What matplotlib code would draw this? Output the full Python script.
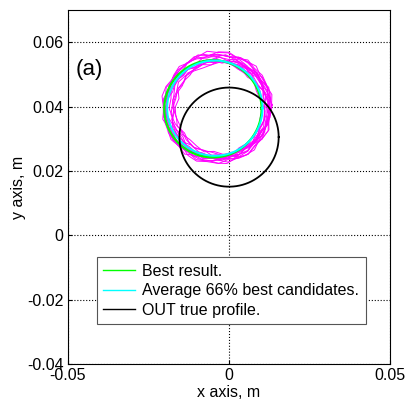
import matplotlib
matplotlib.use('Agg')
import matplotlib.pyplot as plt
import numpy as np

plt.rcParams['font.family'] = ['Liberation Sans', 'DejaVu Sans']

# circles in mm: centre x, centre y, radius
true_c = (0.0, 30.5, 15.4)
best_c = (-5.0, 39.3, 15.1)
avg_c = (-4.4, 39.5, 14.8)

# magenta candidates (mm)
cand_cx = [-3.0, -4.5, -2.5, -4.0, -3.5, -2.0, -5.0, -3.2, -4.2, -2.8, -3.8, -2.4, -3.6, -4.8, -2.2, -3.3]
cand_cy = [39.5, 40.0, 38.5, 39.0, 40.5, 39.8, 39.2, 38.8, 40.2, 39.0, 38.2, 40.6, 39.4, 38.6, 39.6, 40.8]
cand_r = [15.5, 16.0, 14.8, 15.2, 16.3, 14.5, 15.0, 16.0, 15.6, 14.9, 15.8, 15.3, 16.6, 15.4, 14.6, 15.9]
cand_w = [
    [0.3, -0.2, 0.7, 0.1, -0.4, 0.2, 0.8, -0.1, 0.3, -0.6, 0.0, 0.4, -0.3, 0.2, 0.7, -0.2, 0.1, -0.7, 0.3, 0.0, -0.3, 0.5, -0.1, 0.2, 0.6, -0.4, 0.1, 0.3, -0.5, 0.2, 0.0, -0.2],
    [-0.4, 0.2, 0.0, 0.6, -0.1, -0.6, 0.3, 0.2, -0.3, 0.5, 0.7, -0.2, 0.1, -0.4, 0.3, 0.6, -0.1, 0.2, -0.6, 0.4, 0.1, -0.2, 0.7, -0.3, 0.0, 0.4, -0.5, 0.2, 0.3, -0.1, 0.5, -0.3],
    [0.1, 0.6, -0.3, 0.2, 0.5, -0.1, -0.7, 0.3, 0.6, 0.0, -0.2, 0.3, 0.7, -0.4, 0.0, 0.2, -0.3, 0.6, 0.1, -0.6, 0.4, 0.2, -0.2, 0.0, 0.5, -0.4, 0.3, 0.1, -0.5, 0.6, -0.1, 0.2],
    [-0.2, 0.0, 0.5, -0.6, 0.3, 0.7, 0.1, -0.3, 0.2, 0.6, -0.4, 0.0, 0.3, 0.1, -0.6, 0.4, 0.7, -0.1, -0.3, 0.2, 0.6, -0.5, 0.1, 0.3, -0.2, 0.5, 0.0, -0.4, 0.4, 0.2, -0.6, 0.1],
    [0.6, -0.3, 0.1, 0.3, -0.2, 0.5, -0.6, 0.2, 0.0, 0.7, -0.1, -0.4, 0.6, 0.2, -0.3, 0.1, 0.5, -0.2, 0.7, -0.5, 0.0, 0.3, -0.4, 0.2, 0.4, -0.1, 0.6, -0.3, 0.0, 0.5, -0.2, 0.3],
    [0.0, 0.5, -0.1, -0.6, 0.7, 0.2, -0.2, 0.6, -0.4, 0.1, 0.3, 0.7, -0.3, 0.0, 0.5, -0.7, 0.2, 0.3, -0.1, 0.6, -0.2, 0.0, 0.5, -0.5, 0.1, 0.4, -0.3, 0.6, 0.2, -0.4, 0.3, 0.0],
    [0.4, 0.1, -0.4, 0.3, 0.0, -0.3, 0.6, 0.2, -0.6, 0.3, 0.1, -0.2, 0.5, -0.6, 0.2, 0.7, -0.1, 0.0, 0.3, -0.4, 0.6, 0.1, -0.3, 0.7, -0.2, 0.2, 0.5, -0.5, 0.0, 0.3, 0.6, -0.1],
    [-0.6, 0.3, 0.2, -0.1, 0.6, 0.0, 0.3, -0.4, 0.7, -0.2, 0.1, 0.5, -0.6, 0.3, -0.1, 0.2, 0.6, -0.3, 0.0, 0.7, -0.4, 0.2, 0.3, -0.1, 0.5, -0.5, 0.1, 0.4, -0.2, 0.0, 0.6, -0.3],
    [0.2, -0.6, 0.5, 0.7, -0.2, 0.1, 0.0, 0.6, -0.3, -0.1, 0.5, 0.2, -0.7, 0.3, 0.1, -0.4, 0.6, 0.0, -0.2, 0.3, 0.7, -0.6, 0.1, 0.5, -0.3, 0.2, 0.4, -0.1, 0.6, -0.5, 0.0, 0.3],
    [0.7, 0.0, -0.2, 0.3, 0.6, -0.4, 0.2, 0.1, 0.5, -0.7, 0.3, 0.0, 0.2, 0.6, -0.3, 0.1, -0.6, 0.4, 0.2, -0.1, 0.3, 0.7, -0.4, 0.0, 0.5, -0.2, 0.1, 0.6, -0.5, 0.2, 0.4, -0.1],
    [-0.1, 0.5, 0.3, -0.4, 0.1, 0.6, -0.2, 0.0, 0.7, 0.2, -0.6, 0.3, 0.1, -0.3, 0.6, 0.0, 0.2, -0.4, 0.5, 0.1, -0.7, 0.3, 0.6, -0.2, 0.0, 0.4, -0.5, 0.2, 0.7, -0.1, 0.3, -0.4],
    [0.3, 0.7, -0.1, 0.0, -0.6, 0.3, 0.5, -0.2, 0.1, 0.6, 0.2, -0.4, 0.0, 0.7, 0.3, -0.3, -0.1, 0.6, 0.2, -0.6, 0.1, 0.5, 0.0, -0.2, 0.4, 0.6, -0.5, 0.1, 0.3, -0.3, 0.5, 0.2],
    [-0.3, 0.2, 0.6, -0.5, 0.0, 0.4, 0.7, -0.2, 0.3, -0.6, 0.1, 0.5, 0.2, -0.4, 0.6, -0.1, 0.0, 0.7, -0.5, 0.3, 0.2, -0.2, 0.6, 0.1, -0.6, 0.4, 0.0, 0.5, -0.3, 0.2, 0.7, -0.4],
    [0.5, -0.1, 0.3, 0.6, -0.5, 0.2, 0.0, 0.4, -0.3, 0.7, -0.6, 0.1, 0.5, 0.3, -0.2, 0.6, -0.4, 0.2, 0.0, 0.5, -0.1, 0.7, -0.5, 0.3, 0.1, -0.3, 0.6, 0.2, -0.6, 0.4, 0.0, 0.5],
    [0.0, 0.3, -0.5, 0.2, 0.6, -0.3, 0.4, 0.1, -0.7, 0.5, 0.2, -0.1, 0.6, -0.4, 0.3, 0.0, 0.7, -0.2, 0.4, -0.6, 0.1, 0.5, -0.3, 0.6, 0.2, -0.5, 0.3, 0.0, 0.5, -0.2, 0.1, 0.6],
    [-0.5, 0.4, 0.1, -0.2, 0.7, 0.0, -0.4, 0.5, 0.3, -0.6, 0.6, 0.2, -0.1, 0.4, -0.5, 0.3, 0.1, 0.6, -0.3, 0.0, 0.5, -0.6, 0.2, 0.4, -0.1, 0.7, -0.4, 0.3, 0.1, -0.2, 0.6, 0.0],
]

xticks = [-0.05, 0, 0.05]
xtick_labels = ['-0.05', '0', '0.05']
yticks = [-0.04, -0.02, 0, 0.02, 0.04, 0.06]
ytick_labels = ['-0.04', '-0.02', '0', '0.02', '0.04', '0.06']


def circle(c, n=200):
    t = np.linspace(0, 2 * np.pi, n)
    return (c[0] + c[2] * np.cos(t)) / 1000, (c[1] + c[2] * np.sin(t)) / 1000


fig = plt.figure(figsize=(4.09, 4.0), dpi=100)
ax = fig.add_axes([0.166, 0.09, 0.788, 0.885])

# candidates
for cx, cy, r, w in zip(cand_cx, cand_cy, cand_r, cand_w):
    t = np.linspace(0, 2 * np.pi, len(w), endpoint=False)
    rr = r + np.array(w)
    x = (cx + rr * np.cos(t)) / 1000
    y = (cy + rr * np.sin(t)) / 1000
    ax.plot(np.append(x, x[0]), np.append(y, y[0]), color='#ff00ff', lw=0.7)

bx, by = circle(best_c)
ax.plot(bx, by, color='#00ff00', lw=1.6, label='Best result.')
cx_, cy_ = circle(avg_c)
ax.plot(cx_, cy_, color='#00ffff', lw=1.4, label='Average 66% best candidates.')
tx, ty = circle(true_c)
ax.plot(tx, ty, color='black', lw=1.3, label='OUT true profile.')

ax.set_xlim(-0.05, 0.05)
ax.set_ylim(-0.04, 0.07)
ax.set_xticks(xticks)
ax.set_xticklabels(xtick_labels)
ax.set_yticks(yticks)
ax.set_yticklabels(ytick_labels)
ax.tick_params(direction='in', length=3, labelsize=11.5, pad=3)
ax.grid(True, linestyle=':', color='black', lw=0.8)
ax.set_xlabel('x axis, m', fontsize=11.5, labelpad=1)
ax.set_ylabel('y axis, m', fontsize=11.5, labelpad=1)

ax.text(-0.0475, 0.0515, '(a)', fontsize=16, va='center', ha='left')

leg = ax.legend(loc='lower left', bbox_to_anchor=(0.09, 0.113), fontsize=11.5,
                fancybox=False, framealpha=1, edgecolor='#555555',
                handlelength=2.0, handletextpad=0.45, borderaxespad=0,
                labelspacing=0.28, borderpad=0.4)
leg.get_frame().set_linewidth(0.8)
for ln in leg.get_lines():
    ln.set_linewidth(1.0)

fig.savefig('out.png', dpi=100)
